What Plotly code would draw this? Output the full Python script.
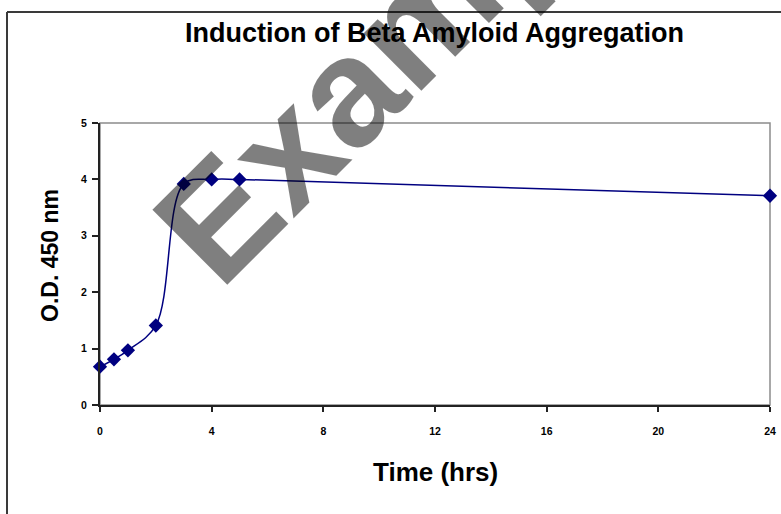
import plotly.graph_objects as go

# Data
time_hrs = [0, 0.5, 1, 2, 3, 4, 5, 24]
od_450 = [0.68, 0.81, 0.97, 1.41, 3.92, 4.0, 4.0, 3.71]
x_ticks = [0, 4, 8, 12, 16, 20, 24]
y_ticks = [0, 1, 2, 3, 4, 5]

title_text = "Induction of Beta Amyloid Aggregation"
x_title = "Time (hrs)"
y_title = "O.D. 450 nm"
watermark = "Example"

W, H = 781, 514
L, R, T, B = 100, 11, 123, 109
PW, PH = W - L - R, H - T - B


def px(xp):
    return (xp - L) / PW


def py(yp):
    return (H - B - yp) / PH


FONT = "Liberation Sans, Arial, sans-serif"
NAVY = "#000080"

fig = go.Figure()
fig.add_trace(go.Scatter(
    x=time_hrs, y=od_450, mode="lines+markers",
    line=dict(color=NAVY, width=1.5, shape="spline", smoothing=1),
    marker=dict(symbol="diamond", size=11, color=NAVY),
    cliponaxis=False, showlegend=False,
))

fig.update_layout(
    width=W, height=H,
    margin=dict(l=L, r=R, t=T, b=B, autoexpand=False),
    paper_bgcolor="white", plot_bgcolor="white",
    font=dict(family=FONT, color="black"),
    xaxis=dict(range=[0, 24], tickvals=x_ticks, ticktext=[str(v) for v in x_ticks],
               showgrid=False, zeroline=False, showline=True, linecolor="#222", linewidth=2,
               ticks="outside", ticklen=5, tickwidth=1.5, tickcolor="#222",
               tickfont=dict(size=10.5, family=FONT, weight="bold"), ticklabelstandoff=10,
               fixedrange=True),
    yaxis=dict(range=[0, 5], tickvals=y_ticks, ticktext=[str(v) for v in y_ticks],
               showgrid=False, zeroline=False, showline=True, linecolor="#222", linewidth=2,
               ticks="outside", ticklen=6, tickwidth=1.5, tickcolor="#222",
               tickfont=dict(size=10.5, family=FONT, weight="bold"), ticklabelstandoff=3,
               fixedrange=True),
    shapes=[
        # plot area frame (grey top/right)
        dict(type="rect", xref="paper", yref="paper", x0=0, y0=0, x1=1, y1=1,
             line=dict(color="#8c8c8c", width=1.5), layer="below"),
        # outer chart border (top and left visible)
        dict(type="line", xref="paper", yref="paper", x0=px(7), x1=px(W + 20), y0=py(12), y1=py(12),
             line=dict(color="#3a3a3a", width=2)),
        dict(type="line", xref="paper", yref="paper", x0=px(7), x1=px(7), y0=py(12), y1=py(H + 20),
             line=dict(color="#3a3a3a", width=2)),
    ],
    annotations=[
        dict(text=title_text, xref="paper", yref="paper", x=px(434), y=py(33),
             xanchor="center", yanchor="middle", showarrow=False,
             font=dict(size=27, family=FONT, weight="bold", color="black")),
        dict(text=x_title, xref="paper", yref="paper", x=px(435), y=py(472),
             xanchor="center", yanchor="middle", showarrow=False,
             font=dict(size=26, family=FONT, weight="bold", color="black")),
        dict(text=y_title, xref="paper", yref="paper", x=px(50), y=py(256),
             xanchor="center", yanchor="middle", showarrow=False, textangle=-90,
             font=dict(size=23, family=FONT, weight="bold", color="black")),
        dict(text=watermark, xref="paper", yref="paper", x=px(406), y=py(31),
             xanchor="center", yanchor="middle", showarrow=False, textangle=-45,
             font=dict(size=154, family=FONT, weight="bold", color="rgba(0,0,0,0.5)")),
    ],
)

fig.write_html("out.html", config={"displayModeBar": False},
               post_script="document.body.style.margin='0px';document.body.style.overflow='hidden';")
